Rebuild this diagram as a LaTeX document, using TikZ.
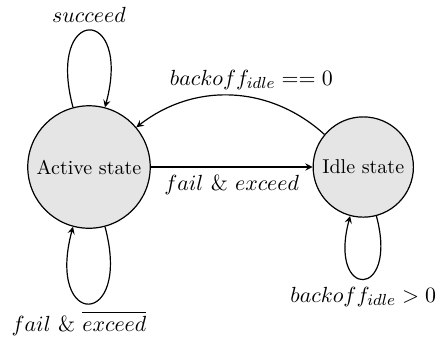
\documentclass[11pt,tikz,border=0pt]{standalone}
\usepackage{tikz}
\usetikzlibrary{arrows,positioning}
\usepackage{amssymb}
\usepackage{amsmath}
\begin{document}
\begin{tikzpicture}[>=stealth, semithick, state/.style={circle,draw,fill=gray!20,font=\small}, every loop/.style={looseness=8.5}]
\useasboundingbox (-1.564,-3.005) rectangle (6.098,2.935);
\node[state] (active) at (0,0) {Active state};
\node[state] (idle) at (4.82,0) {Idle state};
\draw[->] (active) -- node[below] {$fail$ \& $exceed$} (idle);
\draw[->] (idle) to[bend right=40] node[above,pos=0.4] {$backoff_{idle} == 0$} (active);
\draw[->] (active) to[loop above] node[above] {$succeed$} (active);
\draw[->] (active) to[loop below] node[below,xshift=-5pt] {$fail$ \& $\overline{exceed}$} (active);
\draw[->] (idle) to[loop below] node[below] {$backoff_{idle} > 0$} (idle);
\end{tikzpicture}
\end{document}
